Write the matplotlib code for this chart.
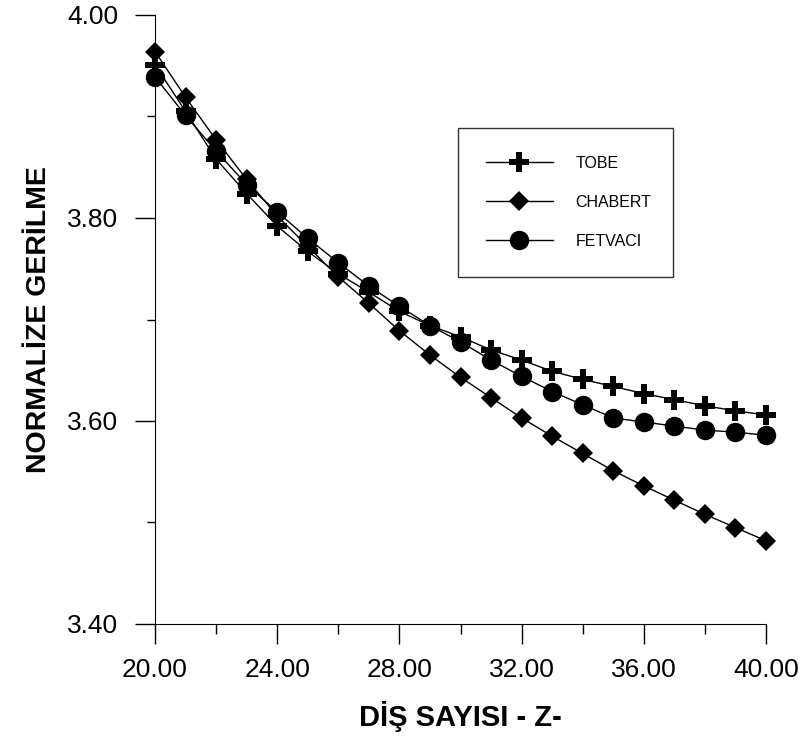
import matplotlib
matplotlib.use("Agg")
import matplotlib.pyplot as plt
from matplotlib.ticker import MultipleLocator, FormatStrFormatter

z = list(range(20, 41))
tobe = [3.951, 3.905, 3.858, 3.824, 3.792, 3.767, 3.745, 3.727, 3.708, 3.694, 3.683,
        3.670, 3.660, 3.649, 3.641, 3.634, 3.627, 3.621, 3.615, 3.610, 3.606]
chabert = [3.964, 3.919, 3.877, 3.838, 3.802, 3.772, 3.742, 3.716, 3.689, 3.665, 3.643,
           3.623, 3.603, 3.585, 3.568, 3.551, 3.536, 3.522, 3.508, 3.495, 3.482]
fetvaci = [3.939, 3.901, 3.866, 3.833, 3.806, 3.780, 3.756, 3.733, 3.713, 3.694, 3.678,
           3.660, 3.644, 3.629, 3.616, 3.603, 3.599, 3.595, 3.591, 3.589, 3.586]
series_names = ["TOBE", "CHABERT", "FETVACI"]
xlabel = "DİŞ SAYISI - Z-"
ylabel = "NORMALİZE GERİLME"

font = "Liberation Sans"

fig = plt.figure(figsize=(8.02, 7.38), dpi=100)
ax = fig.add_axes([155/802, 1-624/738, (766-155)/802, (624-15)/738])

ms = 14
ax.plot(z, tobe, color="black", lw=1, marker="P", ms=ms, mfc="black", mec="black", mew=0, label=series_names[0], clip_on=False, zorder=3)
ax.plot(z, chabert, color="black", lw=1, marker="D", ms=ms*0.72, mfc="black", mec="black", mew=0, label=series_names[1], clip_on=False, zorder=3)
ax.plot(z, fetvaci, color="black", lw=1, marker="o", ms=ms, mfc="black", mec="black", mew=0, label=series_names[2], clip_on=False, zorder=3)

ax.set_xlim(20, 40)
ax.set_ylim(3.40, 4.00)
ax.spines["top"].set_visible(False)
ax.spines["right"].set_visible(False)
ax.xaxis.set_major_locator(MultipleLocator(4))
ax.xaxis.set_minor_locator(MultipleLocator(2))
ax.yaxis.set_major_locator(MultipleLocator(0.2))
ax.yaxis.set_minor_locator(MultipleLocator(0.1))
ax.xaxis.set_major_formatter(FormatStrFormatter("%.2f"))
ax.yaxis.set_major_formatter(FormatStrFormatter("%.2f"))
ax.tick_params(axis="x", which="major", direction="out", length=14.4, width=1, pad=10)
ax.tick_params(axis="x", which="minor", direction="out", length=7, width=1)
ax.tick_params(axis="y", which="major", direction="out", length=14.4, width=1, pad=12)
ax.tick_params(axis="y", which="minor", direction="out", length=6, width=1)
for lab in ax.get_xticklabels() + ax.get_yticklabels():
    lab.set_fontfamily(font)
    lab.set_fontsize(19)

ax.set_xlabel(xlabel, fontsize=21, fontweight="bold", family=font, labelpad=14)
ax.set_ylabel(ylabel, fontsize=20.5, fontweight="bold", family=font, labelpad=11)

leg = ax.legend(loc="upper left",
                bbox_to_anchor=((458-155)/611, 1-(277-15)/609, (673-458)/611, (277-128)/609),
                mode="expand", frameon=True, fancybox=False, edgecolor="black",
                prop={"family": font, "size": 11.5}, handlelength=4.2, handletextpad=1.4,
                borderpad=1.75, labelspacing=1.5, borderaxespad=0)
leg.get_frame().set_linewidth(1)

fig.savefig("out.png", dpi=100, facecolor="white")
